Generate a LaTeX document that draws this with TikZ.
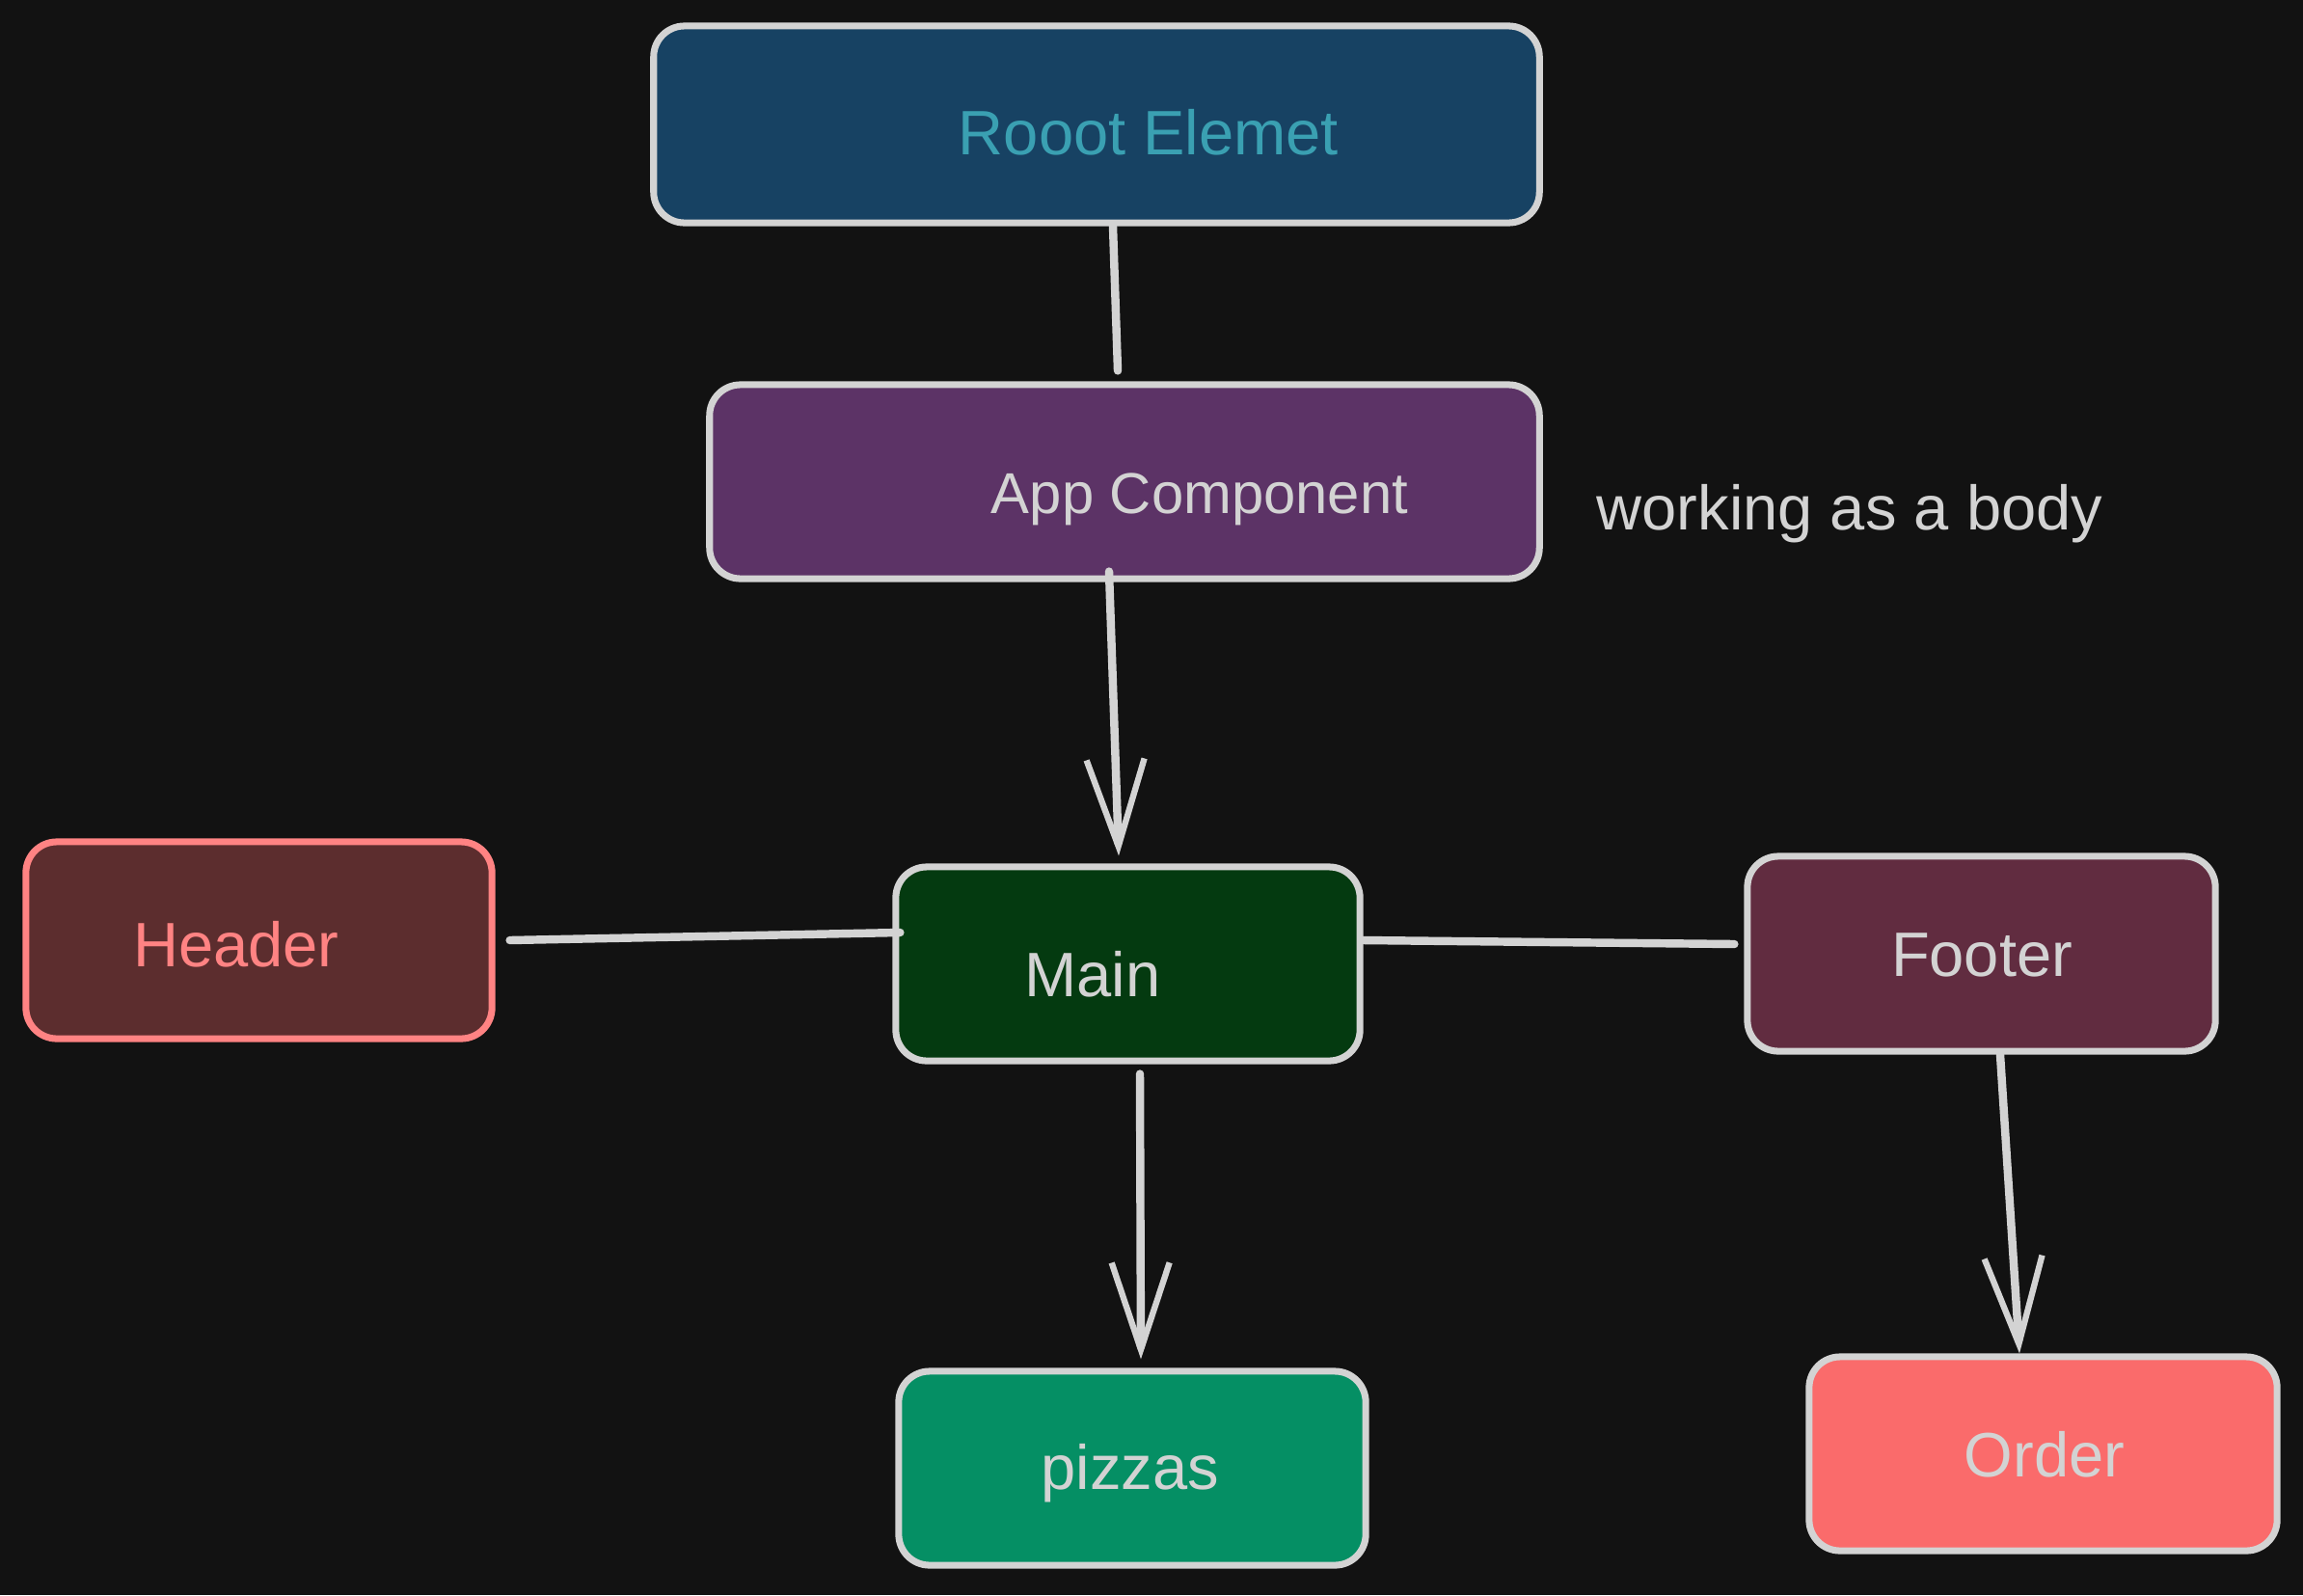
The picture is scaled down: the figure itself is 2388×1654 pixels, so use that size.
\documentclass[tikz,border=0pt]{standalone}
\usepackage{fontspec}
\setmainfont{Liberation Sans}
\usetikzlibrary{arrows.meta,calc}
\definecolor{bg}{HTML}{121212}
\definecolor{strk}{HTML}{D3D3D3}
\definecolor{rootfill}{HTML}{174263}
\definecolor{roottext}{HTML}{3AA0B2}
\definecolor{appfill}{HTML}{5C3366}
\definecolor{headfill}{HTML}{5C2D2E}
\definecolor{headline}{HTML}{FF8383}
\definecolor{mainfill}{HTML}{043A10}
\definecolor{footfill}{HTML}{612C40}
\definecolor{pizzafill}{HTML}{058F64}
\definecolor{orderfill}{HTML}{FA6B6B}
\tikzset{
  box/.style={draw=strk, line width=2pt, rounded corners=0.32cm, rectangle, inner sep=0pt},
  lbl/.style={font=\fontsize{18.5}{22}\selectfont, text=strk, inner sep=0pt, anchor=center},
  conn/.style={draw=strk, line width=2.4pt, line cap=round},
  arr/.style={conn, -{Straight Barb[length=0.9cm, width=0.6cm, line width=1.8pt]}}
}
\begin{document}
\begin{tikzpicture}[x=0.01cm, y=-0.01cm]
\useasboundingbox (0,0) rectangle (2388,1654);
\fill[bg] (0,0) rectangle (2388,1654);
% boxes
\node[box, fill=rootfill, minimum width=9.18cm, minimum height=2.04cm] (root) at (1137,129) {};
\node[box, fill=appfill, minimum width=8.60cm, minimum height=2.01cm] (app) at (1166,499.5) {};
\node[box, draw=headline, fill=headfill, minimum width=4.83cm, minimum height=2.04cm] (header) at (268.5,975) {};
\node[box, fill=mainfill, minimum width=4.81cm, minimum height=2.01cm] (main) at (1169.5,999.5) {};
\node[box, fill=footfill, minimum width=4.85cm, minimum height=2.02cm] (footer) at (2054.5,989) {};
\node[box, fill=pizzafill, minimum width=4.84cm, minimum height=2.01cm] (pizzas) at (1174,1522.5) {};
\node[box, fill=orderfill, minimum width=4.85cm, minimum height=2.01cm] (order) at (2118.5,1507.5) {};
% labels
\node[lbl, text=roottext] (tRoot) at (1191,137) {Rooot Elemet};
\node[lbl, font=\fontsize{17}{20}\selectfont] (tApp) at (1244,518) {App Component};
\node[lbl] (tBody) at (1918,533) {working as a body};
\node[lbl, text=headline] (tHeader) at (245,979) {Header};
\node[lbl] (tMain) at (1133,1010) {Main};
\node[lbl] (tFooter) at (2055,990) {Footer};
\node[lbl] (tPizzas) at (1172,1528) {pizzas};
\node[lbl] (tOrder) at (2120,1508) {Order};
% connectors
\draw[conn] ($(root.south)+(17,0)$) -- ($(app.north)+(-7,-11)$);
\draw[arr] ($(app.south)+(-16,-11)$) -- ($(main.north)+(-9.5,-8)$);
\draw[conn] ($(header.east)+(15,0)$) -- ($(main.west)+(8,-32.5)$);
\draw[conn] ($(main.east)+(0,-24.5)$) -- ($(footer.west)+(-10,-10)$);
\draw[arr] ($(main.south)+(12.5,10)$) -- ($(pizzas.north)+(9,-9)$);
\draw[arr] ($(footer.south)+(19.5,0)$) -- ($(order.north)+(-24.5,0)$);
\end{tikzpicture}
\end{document}
